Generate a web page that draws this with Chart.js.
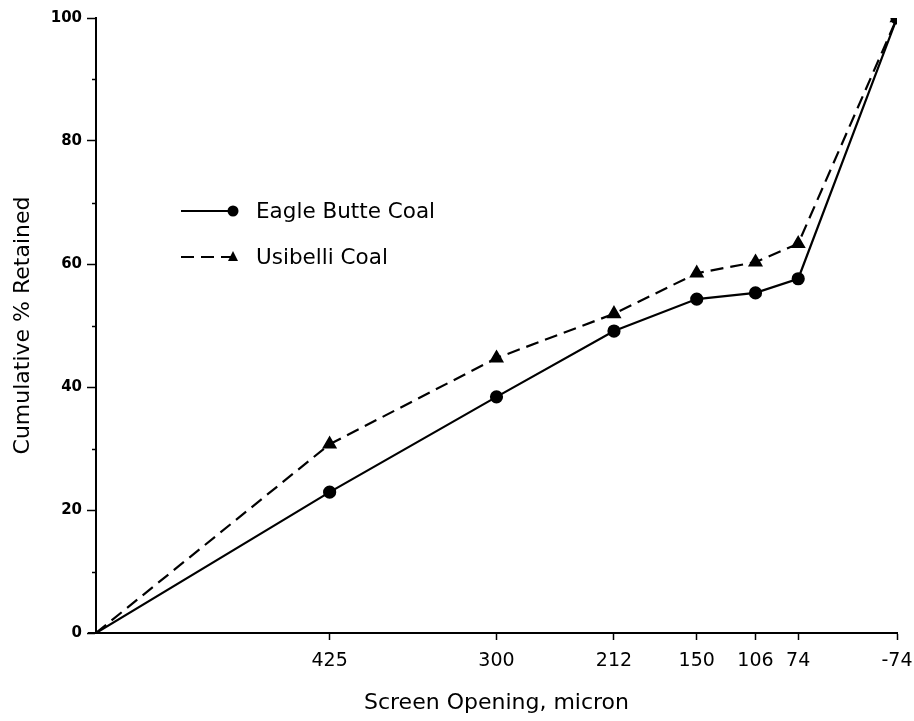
<!DOCTYPE html>
<html>
<head>
<meta charset="utf-8">
<title>Cumulative % Retained vs Screen Opening</title>
<script src="https://cdn.jsdelivr.net/npm/chart.js@4.4.1/dist/chart.umd.min.js"></script>
<style>
  html, body { margin: 0; padding: 0; background: #ffffff; }
  #wrap { position: relative; width: 914px; height: 721px; }
</style>
</head>
<body>
<div id="wrap"><canvas id="sizeChart" width="914" height="721"></canvas></div>
<script>
// Screen opening (micron) used as x position; origin is the top size (600),
// the -74 (pan) fraction is plotted at 0
const screenOpening = [600, 425, 300, 212, 150, 106, 74, 0];
const tickPositions = [425, 300, 212, 150, 106, 74, 0];
const tickLabels = ['425', '300', '212', '150', '106', '74', '-74'];

const eagleButte = [0, 22.9, 38.4, 49.1, 54.3, 55.3, 57.6, 100];
const usibelli = [0, 30.7, 44.7, 51.9, 58.5, 60.3, 63.3, 100];

const seriesNames = ['Eagle Butte Coal', 'Usibelli Coal'];

const FONT = "'DejaVu Sans', sans-serif";

function toPoints(values) {
  return values.map((v, i) => ({ x: screenOpening[i], y: v }));
}

// Minor ticks on the y axis (every 10 between the labelled ones)
const minorTicks = {
  id: 'minorTicks',
  afterDraw(chart) {
    const { ctx } = chart;
    const y = chart.scales.y;
    ctx.save();
    ctx.strokeStyle = '#000';
    ctx.lineWidth = 1.5;
    for (let v = 10; v < 100; v += 20) {
      const py = Math.round(y.getPixelForValue(v)) + 0.5;
      ctx.beginPath();
      ctx.moveTo(y.right - 4, py);
      ctx.lineTo(y.right, py);
      ctx.stroke();
    }
    // x axis line runs a little past the y axis, as in the original
    const x = chart.scales.x;
    ctx.lineWidth = 2;
    ctx.beginPath();
    ctx.moveTo(x.left - 8, x.top);
    ctx.lineTo(x.left, x.top);
    ctx.stroke();
    ctx.restore();
  }
};

// Legend drawn inside the plot, like the original figure
const insideLegend = {
  id: 'insideLegend',
  afterDraw(chart) {
    const { ctx, chartArea } = chart;
    const x0 = chartArea.left + 85;
    const rows = [chartArea.top + 193, chartArea.top + 239];
    ctx.save();
    chart.data.datasets.forEach((ds, i) => {
      const yy = rows[i];
      ctx.strokeStyle = '#000';
      ctx.lineWidth = 2;
      ctx.setLineDash(ds.borderDash || []);
      ctx.beginPath();
      ctx.moveTo(x0, yy);
      ctx.lineTo(x0 + 50, yy);
      ctx.stroke();
      ctx.setLineDash([]);
      ctx.fillStyle = '#000';
      ctx.beginPath();
      if (ds.pointStyle === 'triangle') {
        ctx.moveTo(x0 + 52, yy - 6);
        ctx.lineTo(x0 + 57, yy + 4);
        ctx.lineTo(x0 + 47, yy + 4);
        ctx.closePath();
      } else {
        ctx.arc(x0 + 52, yy, 5.5, 0, Math.PI * 2);
      }
      ctx.fill();
      ctx.font = '21.5px ' + FONT;
      ctx.textBaseline = 'middle';
      ctx.fillText(ds.label, x0 + 75, yy + 1);
    });
    ctx.restore();
  }
};

const ctx = document.getElementById('sizeChart').getContext('2d');
new Chart(ctx, {
  type: 'line',
  data: {
    datasets: [
      {
        label: seriesNames[0],
        data: toPoints(eagleButte),
        borderColor: '#000',
        backgroundColor: '#000',
        borderWidth: 2.2,
        pointStyle: 'circle',
        pointRadius: eagleButte.map((v, i) => (i === 0 ? 0 : 5.5)),
        tension: 0
      },
      {
        label: seriesNames[1],
        data: toPoints(usibelli),
        borderColor: '#000',
        backgroundColor: '#000',
        borderWidth: 2.2,
        borderDash: [13, 7],
        pointStyle: 'triangle',
        pointRadius: usibelli.map((v, i) => (i === 0 ? 0 : 6.5)),
        tension: 0
      }
    ]
  },
  options: {
    responsive: false,
    animation: false,
    layout: { padding: { top: 18, right: 17, left: 0, bottom: 0 } },
    plugins: {
      legend: { display: false },
      tooltip: { enabled: false }
    },
    scales: {
      x: {
        type: 'linear',
        reverse: true,
        min: 0,
        max: 600,
        afterBuildTicks(scale) {
          scale.ticks = tickPositions.map(v => ({ value: v }));
        },
        afterFit(scale) {
          scale.height = 88;
          scale.paddingLeft = 0;
          scale.paddingRight = 0;
        },
        ticks: {
          color: '#000',
          font: { family: FONT, size: 19 },
          padding: 10,
          maxRotation: 0,
          autoSkip: false,
          callback: (value) => tickLabels[tickPositions.indexOf(value)]
        },
        grid: {
          drawOnChartArea: false,
          drawTicks: true,
          tickLength: 7,
          tickColor: '#000',
          tickWidth: 1.5
        },
        border: { display: true, color: '#000', width: 2 },
        title: {
          display: true,
          text: 'Screen Opening, micron',
          color: '#000',
          font: { family: FONT, size: 22 },
          padding: { top: 6, bottom: 5 }
        }
      },
      y: {
        min: 0,
        max: 100,
        afterFit(scale) {
          scale.width = 96;
          scale.paddingTop = 0;
          scale.paddingBottom = 0;
        },
        ticks: {
          stepSize: 20,
          color: '#000',
          font: { family: FONT, size: 15, weight: 'bold' },
          padding: 5
        },
        grid: {
          drawOnChartArea: false,
          drawTicks: true,
          tickLength: 9,
          tickColor: '#000',
          tickWidth: 1.5
        },
        border: { display: true, color: '#000', width: 2 },
        title: {
          display: true,
          text: 'Cumulative % Retained',
          color: '#000',
          font: { family: FONT, size: 22 },
          padding: { top: 10 }
        }
      }
    }
  },
  plugins: [minorTicks, insideLegend]
});
</script>
</body>
</html>
